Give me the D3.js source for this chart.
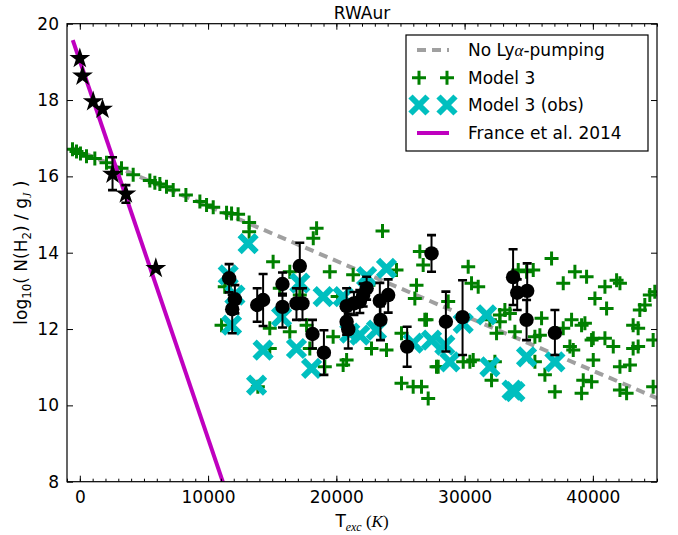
<!DOCTYPE html>
<html>
<head>
<meta charset="utf-8">
<script src="https://cdn.jsdelivr.net/npm/d3@7"></script>
<style>
  body { margin: 0; background: #fff; }
  svg { display: block; }
  text { font-family: "DejaVu Sans", sans-serif; }
</style>
</head>
<body>
<svg id="chart" width="678" height="535"></svg>
<script>
// ---- data ----
const xTicks = [0, 10000, 20000, 30000, 40000];
const yTicks = [8, 10, 12, 14, 16, 18, 20];

// No Lyα-pumping model (straight run in log space)
const noPumpT = [-700, 45000];
const noPumpN = [16.76, 10.19];

// France et al. 2014 thermal fit
const franceT = [-550, 11600];
const franceN = [19.57, 7.55];

// Model 3 level populations
const model3T = [
  -570, -260, 50, 520, 1170, 2080, 2600, 3250, 4160, 5460, 5850, 6240, 6760, 7280,
  8270, 9360, 9880, 10400, 11440, 11830, 12340, 13200, 13200,
  18460, 18200, 23600, 15070, 19490, 16370, 26510, 26770, 21310, 22500, 24690,
  26250, 26120, 26900, 14810, 16370, 11300, 11050, 19750, 17930, 14810, 19100,
  20800, 20530, 22740, 23910, 25080, 25080, 25990, 26640, 27160, 27810, 15590,
  17150, 17680, 13880, 20100,
  30280, 30540, 31060, 28720, 27030, 34180, 34830, 35350, 36780, 37690, 38600,
  39510, 40160, 40940, 41070, 41850, 42110, 43530, 43660, 44050, 44440, 44830,
  44700, 33140, 33530, 32750, 32490, 33920, 36000, 35480, 35870, 38340, 39120,
  39380, 37690, 39900, 40030, 40940, 41590, 38210, 38470, 40030, 39250, 39900,
  37040, 39120, 42110, 42890, 42110, 42630, 43140, 43530, 44700, 36260, 35480,
  32360, 32100, 30670, 30410, 29890, 27940, 32750, 31970, 43140
];
const model3N = [
  16.71, 16.65, 16.60, 16.53, 16.47, 16.36, 16.24, 16.21, 16.04, 15.89, 15.83, 15.80, 15.73, 15.64,
  15.51, 15.34, 15.25, 15.19, 15.05, 15.03, 15.01, 14.79, 14.55,
  14.64, 14.38, 14.57, 13.76, 13.50, 13.50, 14.03, 13.68, 13.42, 13.15, 13.55,
  13.15, 12.80, 12.24, 12.02, 11.93, 13.11, 12.10, 11.80, 11.49, 11.49, 11.01,
  11.19, 11.06, 11.49, 11.45, 11.89, 10.58, 10.49, 10.49, 10.18, 11.01, 13.07,
  12.89, 12.10, 10.49, 12.85,
  13.63, 13.20, 13.11, 12.72, 12.24, 13.55, 13.50, 13.55, 13.85, 13.20, 13.50,
  13.37, 12.80, 13.11, 12.54, 13.28, 13.20, 12.02, 12.50, 12.63, 12.89, 12.98,
  11.71, 12.50, 12.41, 12.19, 11.89, 11.93, 12.28, 11.80, 11.84, 12.24, 12.10,
  12.15, 12.02, 11.71, 11.76, 11.76, 11.54, 11.54, 11.45, 11.19, 10.66, 10.62,
  10.36, 10.32, 11.01, 11.06, 10.40, 10.32, 11.49, 11.54, 10.49, 10.80, 11.14,
  11.14, 10.66, 11.19, 11.14, 11.14, 11.01, 12.37, 12.24, 12.10
];

// Model 3 sampled at the observed levels
const obsModelT = [
  13120, 11570, 12090, 11830, 14290, 13780, 15730, 17150, 16890, 18070, 18970,
  20530, 21050, 21830, 22360, 23910, 23130, 25990, 27420, 28460, 28850, 29890,
  31710, 31970, 33920, 33700, 34830, 37040
];
const obsModelN = [
  14.24, 13.42, 12.89, 12.10, 11.45, 10.53, 12.32, 13.20, 11.49, 10.97, 12.85,
  12.85, 11.89, 11.84, 13.37, 13.59, 11.97, 11.63, 11.71, 11.58, 11.14, 12.15,
  12.37, 11.01, 10.36, 10.40, 11.27, 11.14
];

// Observed H2 columns (circles) with lower / upper bounds
const obsT = [
  11640, 12090, 11880, 13830, 14290, 15800, 15800, 17150, 16890, 17360, 18140,
  19030, 20800, 20800, 20930, 21370, 21830, 22090, 22360, 23390, 24040, 23440,
  25520, 27420, 28540, 29840, 33780, 34100, 34880, 34830, 37040
];
const obsN = [
  13.33, 12.78, 12.52, 12.63, 12.76, 13.18, 12.58, 13.65, 12.67, 12.67, 11.87,
  11.38, 12.60, 12.19, 11.99, 12.67, 12.72, 12.89, 13.07, 12.74, 12.89, 12.24,
  11.54, 13.98, 12.19, 12.31, 13.36, 12.95, 13.00, 12.24, 11.90
];
const obsLo = [
  12.96, 12.41, 11.89, 12.19, 12.08, 12.88, 12.04, 13.07, 12.24, 12.24, 11.49,
  10.80, 12.25, 11.85, 11.49, 12.37, 12.42, 12.59, 12.77, 12.32, 12.43, 11.71,
  11.01, 13.50, 11.41, 11.32, 12.63, 12.50, 12.28, 11.71, 11.32
];
const obsHi = [
  13.70, 13.15, 12.90, 13.07, 13.44, 13.48, 12.92, 14.26, 13.07, 13.07, 12.24,
  11.97, 13.07, 12.53, 12.40, 12.97, 13.02, 13.19, 13.37, 13.21, 13.30, 12.60,
  12.06, 14.46, 12.98, 13.28, 14.09, 13.30, 13.72, 12.76, 12.50
];

// Low-energy levels (stars) with bounds
const lowT = [0, 210, 1040, 1770, 2550, 3590, 5925];
const lowN = [19.09, 18.63, 17.96, 17.76, 16.06, 15.54, 13.59];
const lowLo = [19.09, 18.63, 17.96, 17.76, 15.64, 15.31, 13.59];
const lowHi = [19.09, 18.63, 17.96, 17.76, 16.50, 15.77, 13.59];

// ---- layout ----
const svg = d3.select("#chart");
const plot = { left: 67, right: 657, top: 23.7, bottom: 481.7 };
const x = d3.scaleLinear().domain([-1000, 45000]).range([plot.left, plot.right]);
const y = d3.scaleLinear().domain([8, 20]).range([plot.bottom, plot.top]);
const FS = 17;

const GREEN = "#008000", CYAN = "#00BFBF", MAGENTA = "#BF00BF", GREY = "#A0A0A0";

svg.append("rect").attr("width", 678).attr("height", 535).attr("fill", "#fff");

svg.append("defs").append("clipPath").attr("id", "clip")
  .append("rect")
  .attr("x", plot.left).attr("y", plot.top)
  .attr("width", plot.right - plot.left).attr("height", plot.bottom - plot.top);

const body = svg.append("g").attr("clip-path", "url(#clip)");

// marker shapes
const plusPath = s => `M${-s},0H${s}M0,${-s}V${s}`;
const crossPath = s => `M${-s},${-s}L${s},${s}M${-s},${s}L${s},${-s}`;
function starPath(R) {
  const r = R * 0.381966, pts = [];
  for (let i = 0; i < 10; i++) {
    const a = -Math.PI / 2 + i * Math.PI / 5, rr = i % 2 ? r : R;
    pts.push([rr * Math.cos(a), rr * Math.sin(a)]);
  }
  return "M" + pts.map(p => p[0].toFixed(2) + "," + p[1].toFixed(2)).join("L") + "Z";
}

const line = d3.line().x(d => x(d[0])).y(d => y(d[1]));

// No Lyα-pumping
body.append("path")
  .datum(d3.zip(noPumpT, noPumpN))
  .attr("d", line)
  .attr("fill", "none").attr("stroke", GREY)
  .attr("stroke-width", 4).attr("stroke-dasharray", "9,6");

// Model 3
body.append("g").selectAll("path")
  .data(d3.zip(model3T, model3N))
  .join("path")
  .attr("transform", d => `translate(${x(d[0])},${y(d[1])})`)
  .attr("d", plusPath(7))
  .attr("stroke", GREEN).attr("stroke-width", 3).attr("fill", "none");

// Model 3 (obs)
body.append("g").selectAll("path")
  .data(d3.zip(obsModelT, obsModelN))
  .join("path")
  .attr("transform", d => `translate(${x(d[0])},${y(d[1])})`)
  .attr("d", crossPath(8.5))
  .attr("stroke", CYAN).attr("stroke-width", 6).attr("fill", "none");

// France et al. 2014
body.append("path")
  .datum(d3.zip(franceT, franceN))
  .attr("d", line)
  .attr("fill", "none").attr("stroke", MAGENTA).attr("stroke-width", 4);

// error bars
function errorBars(T, lo, hi) {
  const g = body.append("g").attr("stroke", "#000").attr("fill", "none");
  const rows = d3.zip(T, lo, hi).filter(d => d[2] - d[1] > 0.01);
  g.selectAll("line.v").data(rows).join("line").attr("class", "v")
    .attr("x1", d => x(d[0])).attr("x2", d => x(d[0]))
    .attr("y1", d => y(d[1])).attr("y2", d => y(d[2]))
    .attr("stroke-width", 2);
  ["lo", "hi"].forEach((k, i) => {
    g.selectAll("line." + k).data(rows).join("line").attr("class", k)
      .attr("x1", d => x(d[0]) - 4.5).attr("x2", d => x(d[0]) + 4.5)
      .attr("y1", d => y(d[i + 1])).attr("y2", d => y(d[i + 1]))
      .attr("stroke-width", 2.6);
  });
}
errorBars(obsT, obsLo, obsHi);
errorBars(lowT, lowLo, lowHi);

body.append("g").selectAll("circle")
  .data(d3.zip(obsT, obsN))
  .join("circle")
  .attr("cx", d => x(d[0])).attr("cy", d => y(d[1]))
  .attr("r", 7.2).attr("fill", "#000");

body.append("g").selectAll("path")
  .data(d3.zip(lowT, lowN))
  .join("path")
  .attr("transform", d => `translate(${x(d[0])},${y(d[1])})`)
  .attr("d", starPath(11))
  .attr("fill", "#000");

// ---- axes ----
function styleAxis(g) {
  g.select(".domain").remove();
  g.selectAll("line").attr("stroke", "#000").attr("stroke-width", 1);
  g.selectAll("text").attr("font-size", FS).attr("font-family", "DejaVu Sans").attr("fill", "#000");
}
const fmt = d3.format("d");
svg.append("g").attr("transform", `translate(0,${plot.bottom})`)
  .call(d3.axisBottom(x).tickValues(xTicks).tickSizeInner(-6).tickSizeOuter(0).tickPadding(9).tickFormat(fmt))
  .call(styleAxis);
svg.append("g").attr("transform", `translate(0,${plot.bottom})`)
  .call(d3.axisBottom(x).tickValues(d3.range(-1000, 45001, 1000)).tickSizeInner(-3).tickSizeOuter(0).tickFormat(""))
  .call(styleAxis);
svg.append("g").attr("transform", `translate(0,${plot.top})`)
  .call(d3.axisTop(x).tickValues(xTicks).tickSizeInner(-6).tickSizeOuter(0).tickFormat(""))
  .call(styleAxis);
svg.append("g").attr("transform", `translate(0,${plot.top})`)
  .call(d3.axisTop(x).tickValues(d3.range(-1000, 45001, 1000)).tickSizeInner(-3).tickSizeOuter(0).tickFormat(""))
  .call(styleAxis);
svg.append("g").attr("transform", `translate(${plot.left},0)`)
  .call(d3.axisLeft(y).tickValues(yTicks).tickSizeInner(-6).tickSizeOuter(0).tickPadding(8).tickFormat(fmt))
  .call(styleAxis);
svg.append("g").attr("transform", `translate(${plot.right},0)`)
  .call(d3.axisRight(y).tickValues(yTicks).tickSizeInner(-6).tickSizeOuter(0).tickFormat(""))
  .call(styleAxis);

svg.append("rect")
  .attr("x", plot.left).attr("y", plot.top)
  .attr("width", plot.right - plot.left).attr("height", plot.bottom - plot.top)
  .attr("fill", "none").attr("stroke", "#000").attr("stroke-width", 1.2);

// ---- titles ----
const cx = (plot.left + plot.right) / 2;
svg.append("text").attr("x", cx).attr("y", 18.5)
  .attr("text-anchor", "middle").attr("font-size", FS).text("RWAur");

const xl = svg.append("text").attr("x", cx).attr("y", 527)
  .attr("text-anchor", "middle").attr("font-size", FS);
xl.append("tspan").text("T");
xl.append("tspan").attr("dy", 4).attr("font-size", FS * 0.7)
  .attr("font-family", "Liberation Serif").attr("font-style", "italic").text("exc");
xl.append("tspan").attr("dy", -4).attr("font-family", "Liberation Serif").text(" (");
xl.append("tspan").attr("font-family", "Liberation Serif").attr("font-style", "italic").text("K");
xl.append("tspan").attr("font-family", "Liberation Serif").text(")");

const yl = svg.append("text")
  .attr("transform", `translate(27,${(plot.top + plot.bottom) / 2}) rotate(-90)`)
  .attr("text-anchor", "middle").attr("font-size", FS);
yl.append("tspan").text("log");
yl.append("tspan").attr("dy", 4).attr("font-size", FS * 0.7).text("10");
yl.append("tspan").attr("dy", -4).text("( N(H");
yl.append("tspan").attr("dy", 4).attr("font-size", FS * 0.7).text("2");
yl.append("tspan").attr("dy", -4).text(") / g");
yl.append("tspan").attr("dy", 4).attr("font-size", FS * 0.7)
  .attr("font-family", "Liberation Serif").attr("font-style", "italic").text("J");
yl.append("tspan").attr("dy", -4).text(" )");

// ---- legend ----
const lg = svg.append("g");
lg.append("rect").attr("x", 406).attr("y", 35).attr("width", 242).attr("height", 116)
  .attr("fill", "#fff").attr("stroke", "#000").attr("stroke-width", 1.2);
const rowsY = [50, 77.7, 105, 133];
const mx = [419, 447];

lg.append("line").attr("x1", 417).attr("x2", 449).attr("y1", rowsY[0]).attr("y2", rowsY[0])
  .attr("stroke", GREY).attr("stroke-width", 4).attr("stroke-dasharray", "9,6");
mx.forEach(m => lg.append("path").attr("transform", `translate(${m},${rowsY[1]})`)
  .attr("d", plusPath(7)).attr("stroke", GREEN).attr("stroke-width", 3));
mx.forEach(m => lg.append("path").attr("transform", `translate(${m},${rowsY[2]})`)
  .attr("d", crossPath(8.5)).attr("stroke", CYAN).attr("stroke-width", 6));
lg.append("line").attr("x1", 417).attr("x2", 449).attr("y1", rowsY[3]).attr("y2", rowsY[3])
  .attr("stroke", MAGENTA).attr("stroke-width", 4);

const labels = [null, "Model 3", "Model 3 (obs)", "France et al. 2014"];
const t0 = lg.append("text").attr("x", 468).attr("y", rowsY[0] + 6).attr("font-size", FS);
t0.append("tspan").text("No Ly");
t0.append("tspan").attr("font-family", "Liberation Serif").attr("font-style", "italic").text("α");
t0.append("tspan").text("-pumping");
labels.forEach((s, i) => {
  if (!s) return;
  lg.append("text").attr("x", 468).attr("y", rowsY[i] + 6).attr("font-size", FS).text(s);
});
</script>
</body>
</html>
